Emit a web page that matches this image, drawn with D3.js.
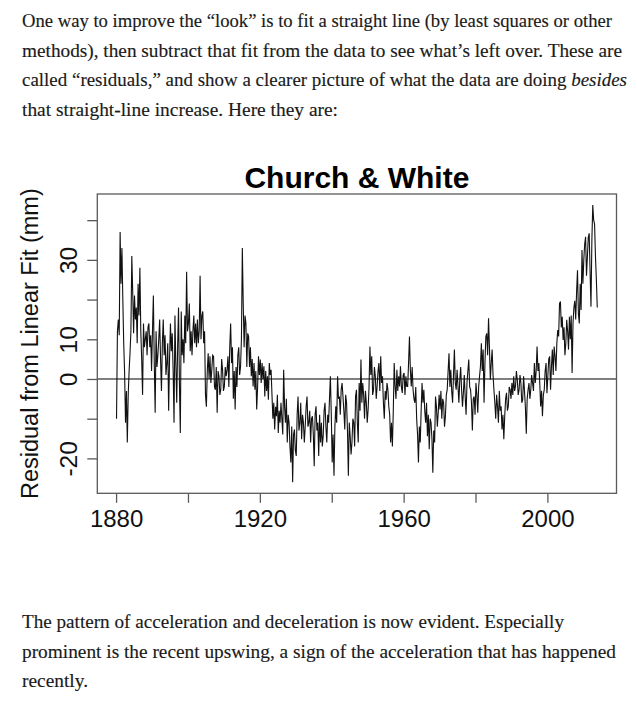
<!DOCTYPE html>
<html><head><meta charset="utf-8">
<script src="https://cdn.jsdelivr.net/npm/d3@7"></script>
<style>html,body{margin:0;padding:0;background:#fff;}svg{display:block;}</style>
</head><body>
<svg id="c" width="637" height="706"></svg>
<script>
// ---------------- data ----------------
const startYear = 1880;
const samplesPerYear = 4;
// residual from linear fit (mm), 4 samples per year, 1880..2013
const residuals = [
-10,12,15,11, 37,24,33,20, 9,1.5,-11,-3, -16,-4,2,6.5, 12,31,22,11.5, 21,15,18,9, 24,16,28,12, 5,-4,14,8, 10,12,6,13, 14,8,11,2,
12,21,4,-8.5, 12,3,6,10, 15,5,-3,9, 15,6,11,1, 4,9,-8,5, 14,7,11.5,2, -11,16,4,-6, 8,18,-1,-13.6, 17,6,10,4, 16,9,27,12,
14,19,7,12, 6,12,16,9, 14,8,15,9, 12,26,10,16, 17,9,12,-4, -7,2,6.5,0, 5.7,-1,2.3,6, 5.7,-2,-2.7,3, -8.5,2,0.7,-4, -2.7,5,2.3,-3,
-1.9,3,0.7,2.3, 5.7,-2,8,14, 4,8,-5,2, -7.7,3,-2,6, 8,1,3,10, 33,19,8,16, 14,3,11.5,10.7, 3,8,0.7,5, -1.9,4,-2.7,2, -7.7,-2,5.7,1,
4.9,-1,4,0, 3.2,-4.4,2,-3, 0.7,-5.2,4,1, 2.3,-4,-10,-6, -12.7,-7,-9.4,-4, -13.6,-8,-11,-6, -10,-14,2.3,-7, -11,-5,-16,-9, -11,-17,-21,-12, -26,-14,-12.7,-18,
-19.4,-9,-4.4,-13, -11,-6,-15.2,-9, -11,-16,-11.9,-7, -4.4,-12,-11,-8, -16,-10,-9.4,-14, -22,-9,-6.9,-13, -11,-19.4,-9,-16, -11,-17,-14.4,-8, -6,-12,-16,-9, -11,-5,0.7,-9,
-21,-14,-24.4,-12, -6.9,-11,0.7,-5, -4.4,-9,-2.7,-1, -4.4,-8,-12.7,-4, -6,-13,-24.4,-11, -14.4,-19,-16,-10, -11,-17,-4.4,-2.7, -11,-16,-1,-8, 4.9,-6,-1,-4, -10,-3,-6,-11,
-7.7,-2,8.2,1, 5.7,-4,-2.7,3, 0.7,-5,-1.9,2, 4,-3,5.7,-1, 0.7,-6,-10,-3, -5.2,-1,-2.7,-6.9, -9,-16,-11,-17, -8,4,-1.9,-5, 2.3,-3,0.7,-1.9, 3.2,-2,-3.5,1,
1.5,-4,0.7,-1.9, -1.9,4,10.7,2.3, -1.9,3,-2.7,-5, -6,-2,-10,-14, -21,-12,-16,-8, -1,-6,-2.7,-8, -11,-6,-14.4,-9, -17.7,-10,-11,-15, -23.6,-13,-16,-4.4, -6.9,-12,-8.5,-4,
-7.7,-3,-10,-5, -6,-12,-9.4,-4, -2.7,2,6.5,-2, 2.3,-3,-6,1, 7.4,-1,-2.7,2.3, -1.9,-6,-0.2,3, -2.7,-7,-3.5,1, -4.4,-9,-1,2, 4.9,-2,-2.7,-6, -13,-5,-4.4,-9,
-1,-4,-8.5,-2, 0.7,3.2,9,2, 7.4,-6,4,10.7, 11.5,6,15.3,8, -0.2,4,7.4,1, -2.7,-6,-10,-4, -6.9,-11,-3,-8, -6.9,-12.7,-9,-15.2, -9.4,-5,-3.5,-8, -6.9,-2,-2.7,-5,
-1,-4,0.7,-3, -1.9,2,-0.2,-4, -2.7,1,-1,-6, -5.2,0.7,-3,-7, -13.8,-5,-2.7,-1, -5,-2.7,1,-1, -3,4,-1,2, 8.2,2,4,-1, -6.9,-3,-9.4,-4, -2.7,2,4,-3.6,
0.7,5,5.7,-2.7, 3,7.4,1,8.2, 5.7,2,9,12.3, 10.7,19,19.5,13, 15.7,9.8,13,6, 9,14.9,12,7.4, 15.7,10,16,1.5, 14,18,19.7,15, 22,27.4,16.5,14, 24,17.4,32.5,24,
30,34,35.8,26, 30.8,35.7,36.7,27, 18.2,35,43.8,40, 39,30.8,25,18
];
const xTickValues = [1880, 1900, 1920, 1940, 1960, 1980, 2000];
const xTickLabels = ["1880", "", "1920", "", "1960", "", "2000"];
const yTickValues = [-20, -10, 0, 10, 20, 30, 40];
const yTickLabels = ["-20", "", "0", "10", "", "30", ""];
const chartTitle = "Church & White";
const yAxisTitle = "Residual from Linear Fit (mm)";
const introLines = [
  "One way to improve the \u201clook\u201d is to fit a straight line (by least squares or other",
  "methods), then subtract that fit from the data to see what\u2019s left over. These are",
  "called \u201cresiduals,\u201d and show a clearer picture of what the data are doing ",
  "that straight-line increase. Here they are:"
];
const introItalic = ["", "", "besides", ""];
const outroLines = [
  "The pattern of acceleration and deceleration is now evident. Especially",
  "prominent is the recent upswing, a sign of the acceleration that has happened",
  "recently."
];

// ---------------- layout ----------------
const svg = d3.select("#c");
svg.append("rect").attr("width", 637).attr("height", 706).attr("fill", "#fff");
const box = {left: 97.3, right: 616.5, top: 194, bottom: 493.3};
const textX = 22;
const introBase = [27, 56.5, 86, 115.5];
const introWidth = [590, 600, 605, 316];
const outroBase = [628, 658, 687];
const outroWidth = [542, 594, 66];

const series = residuals.map((v, i) => ({t: startYear + (i + 0.5) / samplesPerYear, v}));
const tExt = d3.extent(series, d => d.t);
const vExt = d3.extent(series, d => d.v);
const tPad = 0.04 * (tExt[1] - tExt[0]);
const vPad = 0.04 * (vExt[1] - vExt[0]);
const x = d3.scaleLinear().domain([tExt[0] - tPad, tExt[1] + tPad]).range([box.left, box.right]);
const y = d3.scaleLinear().domain([vExt[0] - vPad, vExt[1] + vPad]).range([box.bottom, box.top]);

// paragraphs
const serif = "'Liberation Serif', 'Times New Roman', serif";
function para(lines, bases, widths, italics) {
  lines.forEach((ln, i) => {
    const t = svg.append("text").attr("x", textX).attr("y", bases[i])
      .attr("font-family", serif).attr("font-size", 18.5).attr("fill", "#1a1a1a")
      .attr("stroke", "#1a1a1a").attr("stroke-width", 0.15)
      .attr("textLength", widths[i]).attr("lengthAdjust", "spacingAndGlyphs");
    t.append("tspan").text(ln);
    if (italics && italics[i]) t.append("tspan").attr("font-style", "italic").text(italics[i]);
  });
}
para(introLines, introBase, introWidth, introItalic);
para(outroLines, outroBase, outroWidth, null);

const sans = "'Liberation Sans', Arial, Helvetica, sans-serif";

// title
svg.append("text").attr("x", (box.left + box.right) / 2).attr("y", 188)
  .attr("text-anchor", "middle").attr("font-family", sans).attr("font-weight", "bold")
  .attr("font-size", 30).attr("fill", "#000").text(chartTitle);

// y axis title
svg.append("text").attr("transform", `translate(37.5,${(box.top + box.bottom) / 2}) rotate(-90)`)
  .attr("text-anchor", "middle").attr("font-family", sans).attr("font-size", 23.5)
  .attr("fill", "#111").text(yAxisTitle);

// zero line
svg.append("line").attr("x1", box.left).attr("x2", box.right)
  .attr("y1", y(0)).attr("y2", y(0)).attr("stroke", "#000").attr("stroke-width", 1);

// data line
svg.append("path").datum(series)
  .attr("d", d3.line().x(d => x(d.t)).y(d => y(d.v)))
  .attr("fill", "none").attr("stroke", "#111").attr("stroke-width", 1.1)
  .attr("stroke-linejoin", "miter");

// box
svg.append("rect").attr("x", box.left).attr("y", box.top)
  .attr("width", box.right - box.left).attr("height", box.bottom - box.top)
  .attr("fill", "none").attr("stroke", "#5a5a5a").attr("stroke-width", 1.3);

// x axis
const gx = svg.append("g").attr("transform", `translate(0,${box.bottom})`)
  .call(d3.axisBottom(x).tickValues(xTickValues).tickSize(9.5)
    .tickFormat((d, i) => xTickLabels[i]));
gx.select(".domain").remove();
gx.selectAll(".tick line").attr("stroke", "#5a5a5a").attr("stroke-width", 1.3);
gx.selectAll(".tick text").attr("font-family", sans).attr("font-size", 24)
  .attr("fill", "#111").attr("y", 34.2).attr("dy", 0);

// y axis
const gy = svg.append("g").attr("transform", `translate(${box.left},0)`)
  .call(d3.axisLeft(y).tickValues(yTickValues).tickSize(10)
    .tickFormat((d, i) => yTickLabels[i]));
gy.select(".domain").remove();
gy.selectAll(".tick line").attr("stroke", "#5a5a5a").attr("stroke-width", 1.3);
gy.selectAll(".tick text").attr("font-family", sans).attr("font-size", 24.5)
  .attr("fill", "#111").attr("transform", "rotate(-90)")
  .attr("x", 0).attr("y", -20).attr("dy", 0).attr("text-anchor", "middle");
</script>
</body></html>
